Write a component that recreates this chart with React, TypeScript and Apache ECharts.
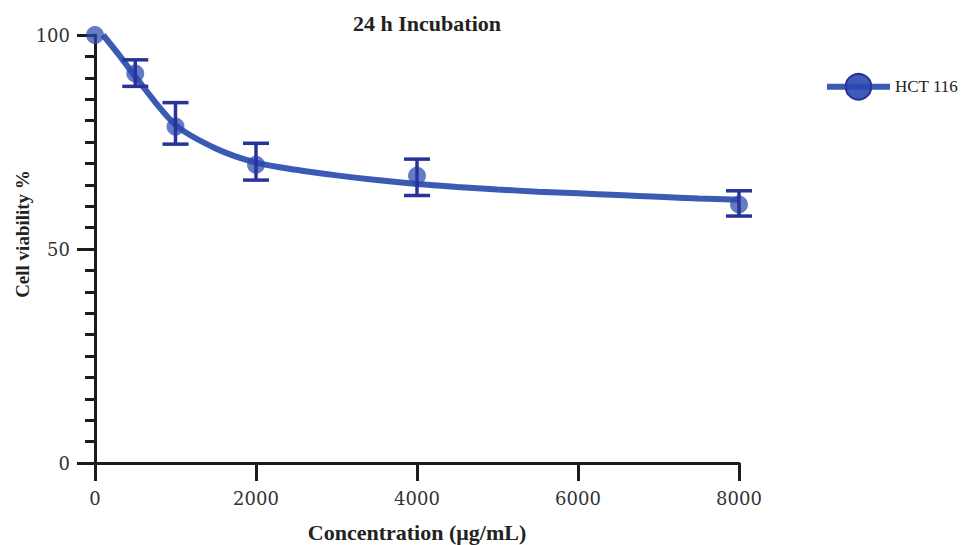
import React, { useEffect, useRef } from 'react';
import * as echarts from 'echarts';

const chartTitle = '24 h Incubation';
const seriesName = 'HCT 116';
const xAxisName = 'Concentration (μg/mL)';
const yAxisName = 'Cell viability %';

const xTicks = [0, 2000, 4000, 6000, 8000];
const yTicks = [0, 50, 100];

const concentrations = [0, 500, 1000, 2000, 4000, 8000];
const viability = [100, 91.0, 78.6, 69.7, 67.1, 60.4];
const errLow = [null, 88.0, 74.5, 66.1, 62.5, 57.7];
const errHigh = [null, 94.2, 84.2, 74.7, 71.0, 63.6];

const fitX = [100, 300, 500, 1000, 1500, 2000, 2500, 3000, 3500, 4000, 4500, 5000, 5500, 6000, 6500, 7000, 7500, 8000];
const fitY = [100, 95.3, 90.3, 79.0, 73.5, 70.2, 68.5, 67.2, 66.1, 65.2, 64.5, 63.9, 63.4, 63.0, 62.6, 62.2, 61.8, 61.5];

const SERIF = '"Liberation Serif", "Times New Roman", serif';
const TICK_FONT = '"DejaVu Serif", serif';
const AXIS_COLOR = '#1c1c1c';
const LINE_COLOR = '#3a5ab4';
const POINT_COLOR = 'rgba(42, 72, 176, 0.9)';
const ERR_COLOR = '#28339a';

export default function App() {
  const ref = useRef<HTMLDivElement>(null);

  useEffect(() => {
    if (!ref.current) return;
    const chart = echarts.init(ref.current, null, { renderer: 'svg' });

    const errData = concentrations
      .map((x, i) => (errLow[i] == null ? null : [x, errLow[i], errHigh[i]]))
      .filter((d) => d !== null);

    const option: any = {
      animation: false,
      backgroundColor: '#ffffff',
      title: {
        text: chartTitle,
        left: 427,
        top: 12,
        padding: 0,
        textAlign: 'center',
        textStyle: { fontFamily: SERIF, fontSize: 22, fontWeight: 'bold', color: '#222' },
      },
      legend: {
        data: [seriesName],
        left: 824,
        top: 73,
        padding: 0,
        itemWidth: 63,
        itemHeight: 32,
        lineStyle: { width: 6, color: LINE_COLOR },
        itemStyle: { color: POINT_COLOR, borderColor: ERR_COLOR, borderWidth: 2 },
        textStyle: { fontFamily: SERIF, fontSize: 17, color: '#222' },
      },
      grid: { left: 95, right: 222, top: 35, bottom: 82, containLabel: false, outerBoundsMode: 'none' },
      xAxis: {
        type: 'value',
        min: xTicks[0],
        max: xTicks[xTicks.length - 1],
        interval: xTicks[1] - xTicks[0],
        name: xAxisName,
        nameLocation: 'middle',
        nameGap: 58,
        nameTextStyle: { fontFamily: SERIF, fontSize: 22, fontWeight: 'bold', color: '#222' },
        axisLine: { show: true, onZero: false, lineStyle: { color: AXIS_COLOR, width: 3 } },
        axisTick: { show: true, length: 18, lineStyle: { color: AXIS_COLOR, width: 3 } },
        axisLabel: { margin: 26, fontFamily: TICK_FONT, fontSize: 18, color: '#333', formatter: (v: number) => String(v) },
        splitLine: { show: false },
      },
      yAxis: {
        type: 'value',
        min: yTicks[0],
        max: yTicks[yTicks.length - 1],
        interval: yTicks[1] - yTicks[0],
        axisLine: { show: true, onZero: false, lineStyle: { color: AXIS_COLOR, width: 3 } },
        axisTick: { show: true, length: 18, lineStyle: { color: AXIS_COLOR, width: 3 } },
        minorTick: { show: true, splitNumber: 10, length: 10, lineStyle: { color: AXIS_COLOR, width: 3 } },
        axisLabel: { margin: 25, fontFamily: TICK_FONT, fontSize: 18, color: '#333', formatter: (v: number) => String(v) },
        splitLine: { show: false },
        minorSplitLine: { show: false },
      },
      graphic: [
        {
          type: 'text',
          x: 22,
          y: 234,
          rotation: Math.PI / 2,
          style: {
            text: yAxisName,
            fontFamily: SERIF,
            fontSize: 19,
            fontWeight: 'bold',
            fill: '#222',
            textAlign: 'center',
            textVerticalAlign: 'middle',
          },
        },
      ],
      series: [
        {
          name: seriesName,
          type: 'line',
          data: fitX.map((x, i) => [x, fitY[i]]),
          smooth: 0.3,
          symbol: 'circle',
          showSymbol: false,
          lineStyle: { color: LINE_COLOR, width: 6 },
          itemStyle: { color: POINT_COLOR, borderColor: ERR_COLOR, borderWidth: 2 },
          z: 2,
        },
        {
          name: 'points',
          type: 'scatter',
          data: concentrations.map((x, i) => [x, viability[i]]),
          symbol: 'circle',
          symbolSize: 18,
          itemStyle: { color: POINT_COLOR },
          z: 3,
        },
        {
          name: 'error',
          type: 'custom',
          data: errData,
          encode: { x: 0, y: [1, 2] },
          z: 4,
          renderItem: (params: any, api: any) => {
            const x = api.value(0);
            const lo = api.value(1);
            const hi = api.value(2);
            const top = api.coord([x, hi]);
            const bot = api.coord([x, lo]);
            const hw = 13;
            const style = { stroke: ERR_COLOR, lineWidth: 3.5 };
            return {
              type: 'group',
              children: [
                { type: 'line', shape: { x1: top[0], y1: top[1], x2: bot[0], y2: bot[1] }, style },
                { type: 'line', shape: { x1: top[0] - hw, y1: top[1], x2: top[0] + hw, y2: top[1] }, style },
                { type: 'line', shape: { x1: bot[0] - hw, y1: bot[1], x2: bot[0] + hw, y2: bot[1] }, style },
              ],
            };
          },
        },
      ],
    };

    chart.setOption(option);
    return () => chart.dispose();
  }, []);

  return <div ref={ref} style={{ width: 961, height: 545, position: 'absolute', left: 0, top: 0 }} />;
}
